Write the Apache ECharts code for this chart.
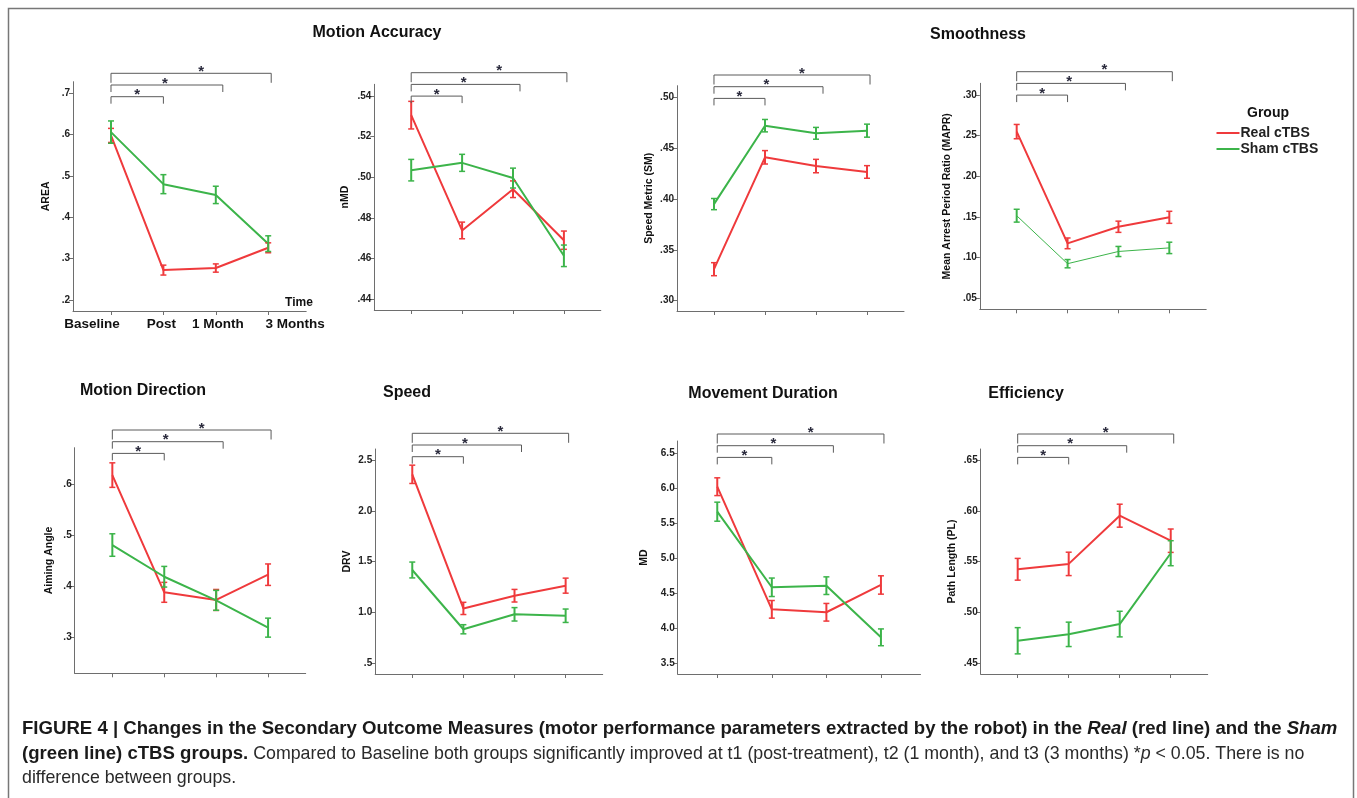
<!DOCTYPE html>
<html><head><meta charset="utf-8">
<script src="https://cdn.jsdelivr.net/npm/echarts@6/dist/echarts.min.js"></script>
<style>html,body{margin:0;padding:0;background:#fff}#c{width:1357px;height:798px}</style>
</head><body><div id="c"></div><script>
// ---------------- DATA ----------------
const categories = ['Baseline', 'Post', '1 Month', '3 Months'];
const groups = ['Real cTBS', 'Sham cTBS'];

// Motion Accuracy – AREA
const areaReal = [0.598, 0.272, 0.277, 0.326];
const areaRealErr = [0.017, 0.012, 0.010, 0.012];
const areaSham = [0.606, 0.480, 0.454, 0.336];
const areaShamErr = [0.027, 0.023, 0.021, 0.019];
const areaTicks = [0.2, 0.3, 0.4, 0.5, 0.6, 0.7];
const areaTickLabels = ['.2', '.3', '.4', '.5', '.6', '.7'];

// Motion Accuracy – nMD
const nmdReal = [0.5306, 0.4738, 0.4941, 0.4690];
const nmdRealErr = [0.0068, 0.0041, 0.0041, 0.0045];
const nmdSham = [0.5035, 0.5071, 0.4996, 0.4613];
const nmdShamErr = [0.0053, 0.0042, 0.0049, 0.0053];
const nmdTicks = [0.44, 0.46, 0.48, 0.50, 0.52, 0.54];
const nmdTickLabels = ['.44', '.46', '.48', '.50', '.52', '.54'];

// Smoothness – Speed Metric
const smReal = [0.331, 0.441, 0.4324, 0.4266];
const smRealErr = [0.0064, 0.0066, 0.0066, 0.0062];
const smSham = [0.395, 0.4721, 0.4646, 0.4672];
const smShamErr = [0.0055, 0.0061, 0.0058, 0.0064];
const smTicks = [0.30, 0.35, 0.40, 0.45, 0.50];
const smTickLabels = ['.30', '.35', '.40', '.45', '.50'];

// Smoothness – MAPR
const maprReal = [0.255, 0.1176, 0.138, 0.1496];
const maprRealErr = [0.0088, 0.0066, 0.0069, 0.0074];
const maprSham = [0.1516, 0.0926, 0.1076, 0.112];
const maprShamErr = [0.0079, 0.0051, 0.0062, 0.0070];
const maprTicks = [0.05, 0.10, 0.15, 0.20, 0.25, 0.30];
const maprTickLabels = ['.05', '.10', '.15', '.20', '.25', '.30'];

// Motion Direction – Aiming Angle
const aimReal = [0.618, 0.3887, 0.3738, 0.4232];
const aimRealErr = [0.024, 0.0195, 0.0205, 0.021];
const aimSham = [0.4812, 0.4192, 0.373, 0.3196];
const aimShamErr = [0.022, 0.0202, 0.0195, 0.0186];
const aimTicks = [0.3, 0.4, 0.5, 0.6];
const aimTickLabels = ['.3', '.4', '.5', '.6'];

// Speed – DRV
const drvReal = [2.359, 1.04, 1.165, 1.264];
const drvRealErr = [0.09, 0.06, 0.062, 0.074];
const drvSham = [1.418, 0.835, 0.982, 0.968];
const drvShamErr = [0.078, 0.045, 0.066, 0.066];
const drvTicks = [0.5, 1.0, 1.5, 2.0, 2.5];
const drvTickLabels = ['.5', '1.0', '1.5', '2.0', '2.5'];

// Movement Duration – MD
const mdReal = [6.023, 4.271, 4.229, 4.619];
const mdRealErr = [0.127, 0.126, 0.126, 0.131];
const mdSham = [5.666, 4.586, 4.609, 3.871];
const mdShamErr = [0.136, 0.132, 0.126, 0.120];
const mdTicks = [3.5, 4.0, 4.5, 5.0, 5.5, 6.0, 6.5];
const mdTickLabels = ['3.5', '4.0', '4.5', '5.0', '5.5', '6.0', '6.5'];

// Efficiency – Path Length
const plReal = [0.5425, 0.5478, 0.5952, 0.5706];
const plRealErr = [0.0107, 0.0115, 0.0113, 0.0115];
const plSham = [0.4722, 0.4785, 0.4886, 0.5583];
const plShamErr = [0.0129, 0.0120, 0.0126, 0.0123];
const plTicks = [0.45, 0.50, 0.55, 0.60, 0.65];
const plTickLabels = ['.45', '.50', '.55', '.60', '.65'];

// significance comparisons: Baseline vs category index
const sigTargets = [1, 2, 3];
const sigLabel = '*';

// ---------------- LAYOUT ----------------
const FONT = '"Liberation Sans", Arial, Helvetica, sans-serif';
const RED = '#ef3a3c';
const GREEN = '#3cb44a';
const AXIS = '#6e6e6e';

const panels = [
  { name: 'AREA', real: areaReal, realErr: areaRealErr, sham: areaSham, shamErr: areaShamErr, ticks: areaTicks, labels: areaTickLabels,
    box: [73, 81.7, 306.2, 311], ymin: 0.173, ymax: 0.728, gap: 21, brTop: 73.3, showX: true, shamW: 2 },
  { name: 'nMD', real: nmdReal, realErr: nmdRealErr, sham: nmdSham, shamErr: nmdShamErr, ticks: nmdTicks, labels: nmdTickLabels,
    box: [374.3, 84.3, 600.8, 310], ymin: 0.4346, ymax: 0.5458, gap: 24, brTop: 72.7, shamW: 2 },
  { name: 'Speed Metric (SM)', real: smReal, realErr: smRealErr, sham: smSham, shamErr: smShamErr, ticks: smTicks, labels: smTickLabels,
    box: [677, 85.7, 904, 311], ymin: 0.2899, ymax: 0.5114, gap: 22, brTop: 75, shamW: 2 },
  { name: 'Mean Arrest Period Ratio (MAPR)', real: maprReal, realErr: maprRealErr, sham: maprSham, shamErr: maprShamErr, ticks: maprTicks, labels: maprTickLabels,
    box: [979.8, 83.3, 1206.2, 309.3], ymin: 0.0365, ymax: 0.3144, gap: 27, brTop: 71.7, shamW: 1 },
  { name: 'Aiming Angle', real: aimReal, realErr: aimRealErr, sham: aimSham, shamErr: aimShamErr, ticks: aimTicks, labels: aimTickLabels,
    box: [74.7, 447.7, 305.7, 673.3], ymin: 0.2303, ymax: 0.6716, gap: 20, brTop: 430, shamW: 2 },
  { name: 'DRV', real: drvReal, realErr: drvRealErr, sham: drvSham, shamErr: drvShamErr, ticks: drvTicks, labels: drvTickLabels,
    box: [375.2, 449, 602.7, 674], ymin: 0.395, ymax: 2.608, gap: 23, brTop: 433.3, shamW: 2 },
  { name: 'MD', real: mdReal, realErr: mdRealErr, sham: mdSham, shamErr: mdShamErr, ticks: mdTicks, labels: mdTickLabels,
    box: [677.7, 441, 920.5, 674], ymin: 3.347, ymax: 6.676, gap: 28, brTop: 434, shamW: 2 },
  { name: 'Path Length (PL)', real: plReal, realErr: plRealErr, sham: plSham, shamErr: plShamErr, ticks: plTicks, labels: plTickLabels,
    box: [980.7, 449, 1207.7, 674], ymin: 0.4395, ymax: 0.6608, gap: 23, brTop: 434, shamW: 2 }
];

const X_PAD = 0.725;
const labelShift = { 'Baseline': [0, 38, 0, 0], 'Post': [0, 4, 0, 0], '1 Month': [0, 0, 0, 4], '3 Months': [0, 0, 0, 54] };

function errRender(color) {
  return function (params, api) {
    const x = api.value(0);
    const lo = api.coord([x, api.value(1)]);
    const hi = api.coord([x, api.value(2)]);
    const w = 3;
    const st = { stroke: color, lineWidth: 2 };
    return { type: 'group', children: [
      { type: 'line', shape: { x1: lo[0], y1: lo[1], x2: hi[0], y2: hi[1] }, style: st },
      { type: 'line', shape: { x1: lo[0] - w, y1: lo[1], x2: lo[0] + w, y2: lo[1] }, style: { stroke: color, lineWidth: 1.5 } },
      { type: 'line', shape: { x1: hi[0] - w, y1: hi[1], x2: hi[0] + w, y2: hi[1] }, style: { stroke: color, lineWidth: 1.5 } }
    ] };
  };
}

function bracketRender(p) {
  return function (params, api) {
    const target = api.value(0);
    const level = api.value(1);           // 0 = lowest bracket
    const endOff = [0, 7, 3][level];
    const starOff = [0, -2, 10][level];
    const drop = level === 2 ? 9.5 : 7;
    const y = p.brTop + (2 - level) * 11.7;
    const x0 = api.coord([0, p.ymin])[0];
    const x1 = api.coord([target, p.ymin])[0] + endOff;
    const st = { stroke: '#5a5a5a', lineWidth: 1, fill: null };
    return { type: 'group', children: [
      { type: 'polyline', shape: { points: [[x0, y + drop], [x0, y], [x1, y], [x1, y + drop]] }, style: st },
      { type: 'text', x: (x0 + x1) / 2 + starOff, y: y + 6,
        style: { text: sigLabel, font: 'bold 15px ' + FONT, fill: '#2b2b3d', align: 'center', verticalAlign: 'bottom' } }
    ] };
  };
}

const grid = [], xAxis = [], yAxis = [], series = [];
panels.forEach((p, i) => {
  grid.push({ left: p.box[0], top: p.box[1], width: p.box[2] - p.box[0], height: p.box[3] - p.box[1] });
  xAxis.push({
    gridIndex: i, type: 'value', min: -X_PAD, max: 3 + X_PAD,
    axisLine: { show: true, onZero: false, lineStyle: { color: AXIS, width: 1 } },
    splitLine: { show: false },
    axisTick: { show: true, customValues: [0, 1, 2, 3], length: 4, lineStyle: { color: AXIS } },
    axisLabel: {
      show: !!p.showX, customValues: [0, 1, 2, 3], margin: 6,
      formatter: v => { const c = categories[Math.round(v)]; return '{' + ['a', 'b', 'c', 'd'][Math.round(v)] + '|' + c + '}'; },
      rich: {
        a: { padding: labelShift['Baseline'], fontFamily: FONT, fontWeight: 'bold', fontSize: 13.5, color: '#111' },
        b: { padding: labelShift['Post'], fontFamily: FONT, fontWeight: 'bold', fontSize: 13.5, color: '#111' },
        c: { padding: labelShift['1 Month'], fontFamily: FONT, fontWeight: 'bold', fontSize: 13.5, color: '#111' },
        d: { padding: labelShift['3 Months'], fontFamily: FONT, fontWeight: 'bold', fontSize: 13.5, color: '#111' }
      }
    }
  });
  yAxis.push({
    gridIndex: i, type: 'value', min: p.ymin, max: p.ymax,
    name: p.name, nameLocation: 'middle', nameGap: p.gap, nameRotate: 90,
    nameTextStyle: { fontFamily: FONT, fontWeight: 'bold', fontSize: 10.5, color: '#111' },
    axisLine: { show: true, onZero: false, lineStyle: { color: AXIS, width: 1 } },
    splitLine: { show: false },
    axisTick: { show: true, customValues: p.ticks, length: 4, lineStyle: { color: AXIS } },
    axisLabel: {
      customValues: p.ticks, margin: 3,
      formatter: v => { const k = p.ticks.findIndex(t => Math.abs(t - v) < 1e-9); return k >= 0 ? p.labels[k] : ''; },
      fontFamily: FONT, fontWeight: 'bold', fontSize: 10, color: '#222'
    }
  });
  series.push({
    name: groups[0], type: 'line', xAxisIndex: i, yAxisIndex: i, symbol: 'none', z: 3,
    lineStyle: { color: RED, width: 2 }, itemStyle: { color: RED },
    data: p.real.map((v, k) => [k, v])
  });
  series.push({
    name: groups[1], type: 'line', xAxisIndex: i, yAxisIndex: i, symbol: 'none', z: 3,
    lineStyle: { color: GREEN, width: p.shamW }, itemStyle: { color: GREEN },
    data: p.sham.map((v, k) => [k, v])
  });
  series.push({
    type: 'custom', xAxisIndex: i, yAxisIndex: i, z: 4, renderItem: errRender(RED),
    data: p.real.map((v, k) => [k, v - p.realErr[k], v + p.realErr[k]])
  });
  series.push({
    type: 'custom', xAxisIndex: i, yAxisIndex: i, z: 4, renderItem: errRender(GREEN),
    data: p.sham.map((v, k) => [k, v - p.shamErr[k], v + p.shamErr[k]])
  });
  series.push({
    type: 'custom', xAxisIndex: i, yAxisIndex: i, z: 5, clip: false, renderItem: bracketRender(p),
    data: sigTargets.map((t, lv) => [t, lv])
  });
});

const titleFont = 'bold 16px ' + FONT;
function txt(x, y, text, font, align) {
  return { type: 'text', x: x, y: y, style: { text: text, font: font, fill: '#111', align: align || 'center', verticalAlign: 'middle' } };
}

const capBold = 18.6;
const capReg = 17.8;
const graphic = [
  { type: 'rect', shape: { x: 8.5, y: 8.5, width: 1345, height: 820 }, style: { fill: null, stroke: '#777', lineWidth: 1.5 }, silent: true },
  txt(377, 33, 'Motion Accuracy', titleFont),
  txt(978, 35, 'Smoothness', titleFont),
  txt(143, 391, 'Motion Direction', titleFont),
  txt(407, 392.5, 'Speed', titleFont),
  txt(763, 394, 'Movement Duration', titleFont),
  txt(1026, 394, 'Efficiency', titleFont),
  txt(299, 303, 'Time', 'bold 12px ' + FONT),
  txt(1268, 113.5, 'Group', 'bold 14px ' + FONT),
  { type: 'text', x: 22, y: 729, style: {
      text: '{b|FIGURE 4 | Changes in the Secondary Outcome Measures (motor performance parameters extracted by the robot) in the }{bi|Real}{b| (red line) and the }{bi|Sham}',
      verticalAlign: 'middle',
      rich: {
        b: { fontFamily: FONT, fontWeight: 'bold', fontSize: capBold, fill: '#1a1a1a' },
        bi: { fontFamily: FONT, fontWeight: 'bold', fontStyle: 'italic', fontSize: capBold, fill: '#1a1a1a' }
      } } },
  { type: 'text', x: 22, y: 754, style: {
      text: '{b|(green line) cTBS groups.}{r| Compared to Baseline both groups significantly improved at t1 (post-treatment), t2 (1 month), and t3 (3 months) *}{i|p}{r| < 0.05. There is no}',
      verticalAlign: 'middle',
      rich: {
        b: { fontFamily: FONT, fontWeight: 'bold', fontSize: capBold, fill: '#1a1a1a' },
        r: { fontFamily: FONT, fontSize: capReg, fill: '#2a2a2a' },
        i: { fontFamily: FONT, fontStyle: 'italic', fontSize: capReg, fill: '#2a2a2a' }
      } } },
  { type: 'text', x: 22, y: 778, style: {
      text: 'difference between groups.', font: capReg + 'px ' + FONT, fill: '#2a2a2a', verticalAlign: 'middle' } }
];

const chart = echarts.init(document.getElementById('c'), null, { renderer: 'canvas' });
chart.setOption({
  animation: false,
  backgroundColor: '#ffffff',
  grid: grid, xAxis: xAxis, yAxis: yAxis, series: series,
  legend: {
    data: groups, orient: 'vertical', left: 1216.5, top: 125, padding: 0, itemWidth: 23, itemHeight: 2, itemGap: 0,
    icon: 'rect', selectedMode: false,
    textStyle: { fontFamily: FONT, fontWeight: 'bold', fontSize: 14, color: '#222', padding: [0, 0, 0, -4], lineHeight: 16 }
  },
  graphic: graphic
});
</script></body></html>
